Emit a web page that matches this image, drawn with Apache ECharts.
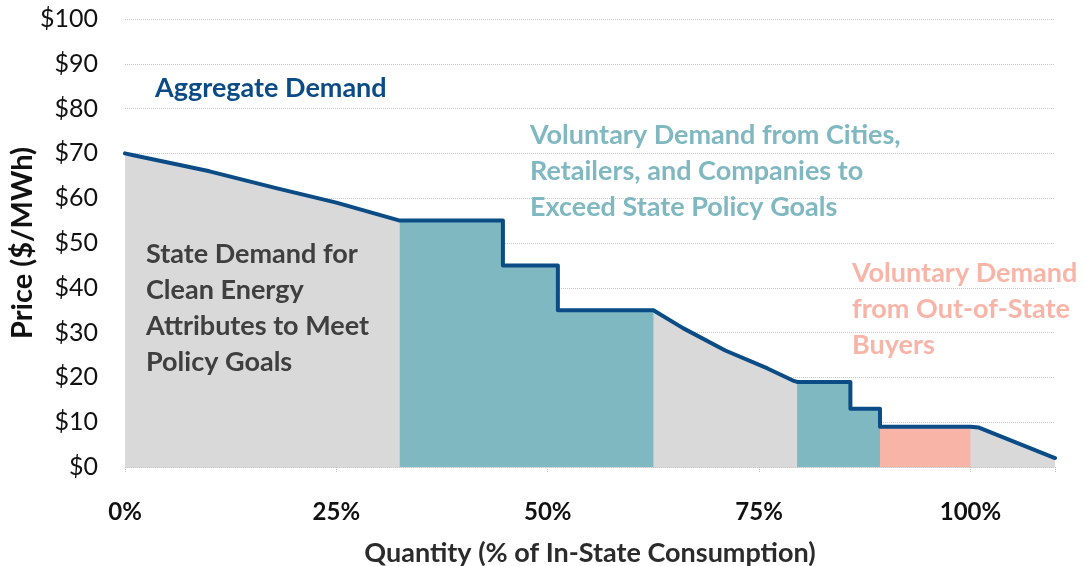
<!DOCTYPE html>
<html>
<head>
<meta charset="utf-8">
<script src="https://cdn.jsdelivr.net/npm/echarts@6/dist/echarts.min.js"></script>
<style>
  html, body { margin: 0; padding: 0; background: #fff; }
  #chart { width: 1086px; height: 566px; }
</style>
</head>
<body>
<div id="chart"></div>
<script>
// aggregate demand curve: quantity (% of in-state consumption) and price ($/MWh)
const demandQty   = [0, 1, 10, 18, 25, 32.5, 44.7, 44.7, 51.2, 51.2, 62.5, 66, 71, 76, 79, 79.5, 85.8, 85.8, 89.3, 89.3, 100, 101, 110]
const demandPrice = [70, 69.6, 66, 62.2, 59, 55, 55, 45, 45, 35, 35, 31, 26, 22, 19.3, 19, 19, 13, 13, 9, 9, 8.8, 2]

// quantity spans of the coloured blocks
const citySpans = [[32.5, 62.5], [79.5, 89.3]]
const outOfStateSpans = [[89.3, 100]]

const xTicks = [0, 25, 50, 75, 100]
const yTicks = [0, 10, 20, 30, 40, 50, 60, 70, 80, 90, 100]

const curve = demandQty.map((q, i) => [q, demandPrice[i]])

function spanPoints (span) {
  return curve.filter(p => p[0] >= span[0] && p[0] <= span[1])
}

const FONT = 'Lato'

function areaSeries (data, color) {
  return {
    type: 'line',
    data: data,
    symbol: 'none',
    silent: true,
    lineStyle: { width: 0 },
    areaStyle: { color: color, opacity: 1 },
    z: 2
  }
}

const series = [areaSeries(curve, '#d9d9d9')]
citySpans.forEach(s => series.push(areaSeries(spanPoints(s), '#7fb8c0')))
outOfStateSpans.forEach(s => series.push(areaSeries(spanPoints(s), '#f7b4a7')))
series.push({
  type: 'line',
  data: curve,
  symbol: 'none',
  lineStyle: { color: '#0b4c86', width: 4, join: 'round', cap: 'round' },
  z: 5
})

const dom = echarts.init(document.getElementById('chart'))
const option = {
  animation: false,
  grid: { left: 125, right: 31, top: 19, bottom: 99, outerBoundsMode: 'none', containLabel: false },
  xAxis: {
    type: 'value',
    min: 0,
    max: 110,
    interval: 25,
    name: 'Quantity (% of In-State Consumption)',
    nameLocation: 'middle',
    nameGap: 73,
    nameTextStyle: { fontFamily: FONT, fontWeight: 'bold', fontSize: 27, color: '#2b2b2b' },
    axisLine: { show: true, lineStyle: { color: '#c8c8c8', type: 'dotted', width: 1 } },
    axisTick: { show: true, length: 6, lineStyle: { color: '#c8c8c8', type: 'dotted' } },
    axisLabel: {
      margin: 33,
      fontFamily: FONT,
      fontWeight: 'bold',
      fontSize: 24,
      color: '#111',
      formatter: v => xTicks.includes(v) ? v + '%' : ''
    },
    splitLine: { show: false }
  },
  yAxis: {
    type: 'value',
    min: 0,
    max: 100,
    interval: 10,
    name: 'Price ($/MWh)',
    nameLocation: 'middle',
    nameGap: 88,
    nameMoveOverlap: false,
    nameTextStyle: { fontFamily: FONT, fontWeight: 'bold', fontSize: 29, color: '#111' },
    axisLine: { show: false },
    axisTick: { show: false },
    axisLabel: {
      margin: 27,
      fontFamily: FONT,
      fontSize: 25,
      color: '#111',
      formatter: v => yTicks.includes(v) ? '$' + v : ''
    },
    splitLine: { show: true, lineStyle: { color: '#c8c8c8', type: 'dotted', width: 1 } }
  },
  graphic: [
    {
      type: 'text', left: 155, top: 70, z: 10,
      style: { text: 'Aggregate Demand', fill: '#0b4c86', font: 'bold 27px ' + FONT, lineHeight: 36 }
    },
    {
      type: 'text', left: 530, top: 117, z: 10,
      style: {
        text: 'Voluntary Demand from Cities,\nRetailers, and Companies to\nExceed State Policy Goals',
        fill: '#7fb8c0', font: 'bold 27px ' + FONT, lineHeight: 36
      }
    },
    {
      type: 'text', left: 146, top: 236, z: 10,
      style: {
        text: 'State Demand for\nClean Energy\nAttributes to Meet\nPolicy Goals',
        fill: '#3f3f3f', font: 'bold 27px ' + FONT, lineHeight: 36
      }
    },
    {
      type: 'text', left: 852, top: 255, z: 10,
      style: {
        text: 'Voluntary Demand\nfrom Out-of-State\nBuyers',
        fill: '#f7b4a7', font: 'bold 27px ' + FONT, lineHeight: 36
      }
    }
  ],
  series: series
}
dom.setOption(option)
</script>
</body>
</html>
